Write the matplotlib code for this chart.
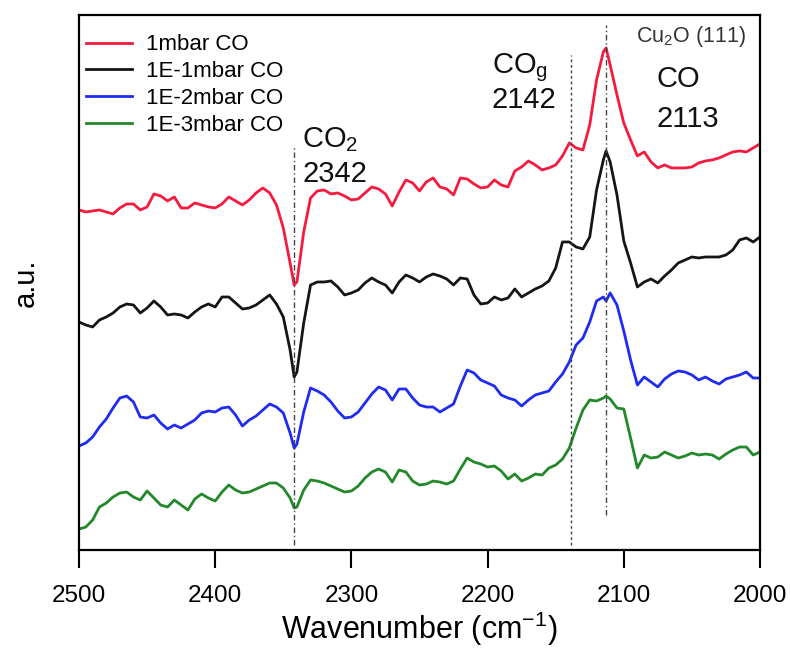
import numpy as np
import matplotlib.pyplot as plt

plt.rcParams["font.family"] = ["Liberation Sans", "DejaVu Sans"]
plt.rcParams["mathtext.default"] = "regular"

# wavenumber grid (cm-1), 5 cm-1 steps plus the two band centres
wavenumber = np.sort(np.r_[np.arange(2000, 2505, 5), 2342, 2113])[::-1]

# offset spectra (a.u.)
co_1mbar = [
    3.40, 3.38, 3.39, 3.40, 3.38, 3.36, 3.42, 3.46, 3.46, 3.40, 3.43, 3.56, 3.54, 3.49, 3.53, 3.42,
    3.42, 3.47, 3.45, 3.43, 3.42, 3.46, 3.53, 3.49, 3.45, 3.50, 3.57, 3.62, 3.57, 3.45, 3.22, 2.87,
    2.65, 2.68, 3.18, 3.52, 3.59, 3.60, 3.56, 3.57, 3.54, 3.50, 3.51, 3.57, 3.63, 3.61, 3.56, 3.44,
    3.58, 3.70, 3.67, 3.59, 3.68, 3.72, 3.63, 3.61, 3.55, 3.72, 3.71, 3.66, 3.62, 3.63, 3.70, 3.65,
    3.63, 3.79, 3.83, 3.89, 3.85, 3.80, 3.82, 3.85, 3.94, 4.07, 4.02, 4.00, 4.25, 4.70, 4.98, 5.02,
    4.85, 4.55, 4.27, 4.10, 3.94, 3.98, 3.88, 3.82, 3.85, 3.82, 3.82, 3.82, 3.83, 3.87, 3.89, 3.90,
    3.92, 3.95, 3.98, 3.99, 3.98, 4.02, 4.06,
]
co_1e1mbar = [
    2.28, 2.25, 2.23, 2.30, 2.33, 2.37, 2.43, 2.46, 2.45, 2.37, 2.42, 2.49, 2.43, 2.35, 2.36, 2.35,
    2.32, 2.38, 2.43, 2.46, 2.43, 2.53, 2.53, 2.47, 2.41, 2.42, 2.45, 2.50, 2.55, 2.46, 2.33, 2.00,
    1.73, 1.78, 2.27, 2.65, 2.68, 2.68, 2.69, 2.63, 2.55, 2.57, 2.60, 2.67, 2.72, 2.68, 2.65, 2.57,
    2.68, 2.75, 2.72, 2.68, 2.73, 2.76, 2.74, 2.71, 2.65, 2.72, 2.71, 2.55, 2.46, 2.47, 2.53, 2.50,
    2.52, 2.61, 2.53, 2.57, 2.61, 2.64, 2.69, 2.82, 3.08, 3.08, 3.03, 3.01, 3.13, 3.60, 3.90, 3.99,
    3.88, 3.55, 3.09, 2.87, 2.63, 2.68, 2.71, 2.67, 2.74, 2.80, 2.87, 2.90, 2.93, 2.92, 2.93, 2.93,
    2.93, 2.95, 3.00, 3.10, 3.12, 3.08, 3.13,
]
co_1e2mbar = [
    1.04, 1.07, 1.13, 1.23, 1.31, 1.42, 1.52, 1.54, 1.48, 1.33, 1.32, 1.35, 1.27, 1.21, 1.25, 1.22,
    1.26, 1.30, 1.37, 1.39, 1.38, 1.42, 1.43, 1.35, 1.24, 1.30, 1.34, 1.40, 1.46, 1.43, 1.37, 1.17,
    1.02, 1.06, 1.38, 1.62, 1.59, 1.55, 1.48, 1.39, 1.32, 1.33, 1.38, 1.47, 1.56, 1.63, 1.60, 1.50,
    1.61, 1.61, 1.52, 1.45, 1.43, 1.43, 1.38, 1.42, 1.46, 1.64, 1.80, 1.77, 1.70, 1.67, 1.64, 1.55,
    1.52, 1.50, 1.44, 1.50, 1.55, 1.57, 1.59, 1.68, 1.76, 1.88, 2.05, 2.12, 2.28, 2.49, 2.53, 2.49,
    2.57, 2.45, 2.19, 1.90, 1.65, 1.73, 1.68, 1.63, 1.71, 1.76, 1.79, 1.78, 1.75, 1.70, 1.73, 1.69,
    1.66, 1.71, 1.73, 1.75, 1.78, 1.72, 1.72,
]
co_1e3mbar = [
    0.21, 0.23, 0.30, 0.43, 0.47, 0.53, 0.57, 0.58, 0.53, 0.50, 0.59, 0.52, 0.45, 0.43, 0.50, 0.45,
    0.40, 0.51, 0.56, 0.52, 0.49, 0.58, 0.65, 0.60, 0.57, 0.58, 0.61, 0.64, 0.67, 0.67, 0.62, 0.52,
    0.42, 0.43, 0.60, 0.70, 0.69, 0.67, 0.64, 0.61, 0.58, 0.59, 0.64, 0.72, 0.78, 0.81, 0.78, 0.68,
    0.80, 0.78, 0.69, 0.65, 0.66, 0.69, 0.68, 0.66, 0.69, 0.81, 0.92, 0.88, 0.86, 0.83, 0.84, 0.79,
    0.71, 0.76, 0.69, 0.72, 0.76, 0.75, 0.82, 0.85, 0.91, 1.02, 1.22, 1.40, 1.50, 1.49, 1.52, 1.54,
    1.51, 1.42, 1.41, 1.12, 0.82, 0.95, 0.92, 0.93, 0.98, 0.95, 0.92, 0.94, 0.97, 0.95, 0.96, 0.95,
    0.91, 0.96, 1.00, 1.03, 1.03, 0.95, 0.98,
]

series_labels = ["1mbar CO", "1E-1mbar CO", "1E-2mbar CO", "1E-3mbar CO"]
series_colors = ["#f51a3e", "#151515", "#1f2cf0", "#22882a"]

# band markers: position, top, bottom
band_pos = [2342, 2139, 2113]
band_top = [4.05, 4.95, 5.25]
band_bottom = [0.05, 0.05, 0.35]
band_styles = [(0, (4, 2, 1, 2)), (0, (2, 2)), (0, (4, 2, 1, 2))]

fig = plt.figure(figsize=(7.9, 6.49), dpi=100)
ax = fig.add_axes([0.100, 0.1525, 0.862, 0.8245])

for y, lab, col in zip([co_1mbar, co_1e1mbar, co_1e2mbar, co_1e3mbar], series_labels, series_colors):
    ax.plot(wavenumber, y, color=col, linewidth=2.0, label=lab)

for pos, top, bot, ls in zip(band_pos, band_top, band_bottom, band_styles):
    ax.plot([pos, pos], [bot, top], color="#444444", linewidth=1.0, linestyle=ls, zorder=3)

ax.text(2336, 4.03, "CO$_2$", fontsize=21, color="#111111")
ax.text(2336, 3.68, "2342", fontsize=21, color="#111111")
ax.text(2197, 4.77, "CO$_g$", fontsize=21, color="#111111")
ax.text(2197, 4.42, "2142", fontsize=21, color="#111111")
ax.text(2076, 4.63, "CO", fontsize=21, color="#111111")
ax.text(2076, 4.23, "2113", fontsize=21, color="#111111")
ax.text(2091, 5.08, "Cu$_2$O (111)", fontsize=15.5, color="#333333")

ax.set_xlim(2500, 2000)
ax.set_ylim(0, 5.35)
ax.set_xticks([2500, 2400, 2300, 2200, 2100, 2000])
ax.set_yticks([])
ax.tick_params(axis="x", direction="out", length=13, width=1.5, pad=12, labelsize=17.5)
for s in ax.spines.values():
    s.set_linewidth(1.6)

ax.set_xlabel("Wavenumber (cm$^{-1}$)", fontsize=22, labelpad=2)
ax.set_ylabel("a.u.", fontsize=21, labelpad=28)

ax.legend(loc="upper left", bbox_to_anchor=(0.0, 0.976), frameon=False, fontsize=16,
          handlelength=2.1, handletextpad=0.6, labelspacing=0.26, borderaxespad=0, borderpad=0.3)

fig.savefig("out.png", dpi=100)
